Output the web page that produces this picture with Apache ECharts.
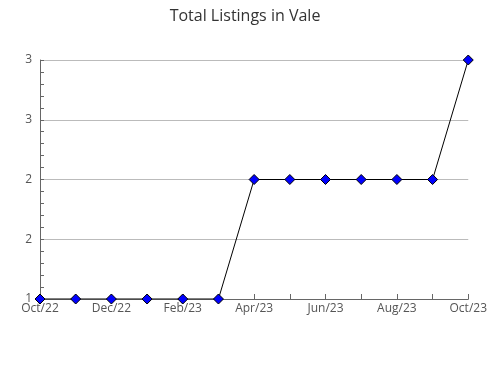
<!DOCTYPE html>
<html><head><meta charset="utf-8">
<script src="https://cdn.jsdelivr.net/npm/echarts@6/dist/echarts.min.js"></script>
<style>html,body{margin:0;padding:0;background:#fff}#c{width:490px;height:380px}</style>
</head><body><div id="c"></div>
<script>
const titleText = "Total Listings in Vale";
const months = ["Oct/22","Nov/22","Dec/22","Jan/23","Feb/23","Mar/23","Apr/23","May/23","Jun/23","Jul/23","Aug/23","Sep/23","Oct/23"];
const listings = [1,1,1,1,1,1,2,2,2,2,2,2,3];

const chart = echarts.init(document.getElementById('c'), null, {renderer:'canvas'});
chart.setOption({
  animation:false,
  backgroundColor:'#fff',
  title:{text:titleText,left:'center',top:3,textStyle:{fontFamily:'Open Sans',fontWeight:'normal',fontSize:16,color:'#333'}},
  grid:{left:40,right:20,top:60,bottom:81,containLabel:false},
  xAxis:{type:'category',data:months,boundaryGap:false,
    axisLine:{lineStyle:{color:'#666'}},
    axisTick:{inside:true,length:5,interval:0,lineStyle:{color:'#666'}},
    axisLabel:{interval:1,color:'#555',fontFamily:'Open Sans',fontSize:12,margin:4},
    splitLine:{show:false}},
  yAxis:{type:'value',min:1,max:3,interval:0.5,
    axisLine:{show:true,lineStyle:{color:'#666'}},
    axisTick:{show:true,inside:true,length:4,lineStyle:{color:'#666'}},
    minorTick:{show:true,splitNumber:5,length:4,lineStyle:{color:'#666'}},
    axisLabel:{color:'#555',fontFamily:'Open Sans',fontSize:12,margin:8,formatter:v=>String(Math.round(v))},
    splitLine:{show:true,lineStyle:{color:'#bbb',width:1}}},
  series:[{type:'line',data:listings,symbol:'diamond',symbolSize:10,
    lineStyle:{color:'#000',width:1},
    itemStyle:{color:'#0000ff',borderColor:'#000',borderWidth:1}}]
});
</script></body></html>
